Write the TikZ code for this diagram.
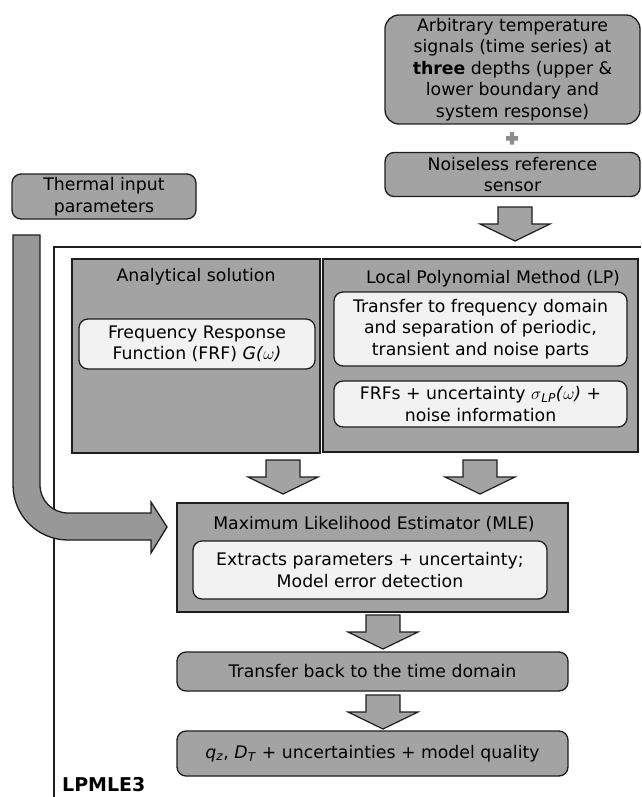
\documentclass[tikz,border=0pt]{standalone}
\usepackage{fontspec}
\setmainfont{DejaVu Sans}
\definecolor{boxgray}{HTML}{A3A3A3}
\definecolor{innergray}{HTML}{F2F2F2}
\definecolor{bargray}{HTML}{989898}
\definecolor{plusgray}{HTML}{8C8C8C}
\definecolor{edge}{HTML}{1E1E1E}
\newcommand\blockdown[2]{%
  \draw[blockarrow] (#1-17,#2) -- (#1+17,#2) -- (#1+17,#2+17) -- (#1+35,#2+17)
    -- (#1,#2+34) -- (#1-35,#2+17) -- (#1-17,#2+17) -- cycle;}
\begin{document}
\begin{tikzpicture}[x=1pt,y=-1pt,
  txt/.style={font=\fontsize{17.3}{21.6}\selectfont, align=center, inner sep=0pt},
  rbox/.style={txt, draw=edge, line width=1.3pt, fill=boxgray, rounded corners=9pt},
  sbox/.style={draw=edge, line width=1.3pt, fill=boxgray, inner sep=0pt},
  ibox/.style={txt, draw=edge, line width=1.3pt, fill=innergray, rounded corners=9pt},
  blockarrow/.style={draw=edge, line width=1.2pt, fill=boxgray, line join=miter},
]
\useasboundingbox (0,0) rectangle (641,797);

% top input boxes
\node[rbox, minimum width=255, minimum height=109, rounded corners=14pt] (sig) at (512.5,69.5)
  {Arbitrary temperature\\signals (time series) at\\\textbf{three} depths (upper \&\\lower boundary and\\system response)};
\fill[plusgray] (506,136) rectangle (518,140.5) (509.8,132) rectangle (514.2,144.5);
\node[rbox, minimum width=255, minimum height=44] (ref) at (512.5,174.5)
  {Noiseless reference\\sensor};
\blockdown{515}{207}

\node[rbox, minimum width=184, minimum height=45] (thermal) at (104,196.5)
  {Thermal input\\parameters};

% frame
\draw[line width=1.6pt, edge] (54,797) -- (54,247) -- (641,247);

% analytical solution
\node[sbox, minimum width=248, minimum height=194] (anal) at (196,356) {};
\node[txt] (analt) at (196,277) {Analytical solution};
\node[ibox, minimum width=236, minimum height=50] (frf) at (197,344)
  {Frequency Response\\Function (FRF) \textit{G(}$\omega$\textit{)}};

% LP
\node[sbox, minimum width=315, minimum height=193] (lp) at (480.5,355.5) {};
\node[txt] (lpt) at (493,279) {Local Polynomial Method (LP)};
\node[ibox, minimum width=293, minimum height=74] (tf) at (480.5,329)
  {Transfer to frequency domain\\and separation of periodic,\\transient and noise parts};
\node[ibox, minimum width=293, minimum height=46] (frfs) at (480.5,404)
  {FRFs + uncertainty $\sigma$\textsubscript{\textit{LP}}\textit{(}$\omega$\textit{)} +\\noise information};

\blockdown{283}{460}
\blockdown{480}{460}

% curved thermal arrow
\draw[line width=1.3pt, draw=edge, fill=bargray, line join=miter]
  (13,235) -- (13,485) .. controls (13,515.4) and (37.6,540) .. (68,540)
  -- (151,540) -- (151,553) -- (167,527) -- (151,502) -- (151,513) -- (68,513)
  .. controls (52.5,513) and (40,500.5) .. (40,485) -- (40,235) -- cycle;

% MLE
\node[sbox, minimum width=391, minimum height=109] (mle) at (372.5,557.5) {};
\node[txt] (mlet) at (374,524) {Maximum Likelihood Estimator (MLE)};
\node[ibox, minimum width=354, minimum height=58] (ext) at (370,570)
  {Extracts parameters + uncertainty;\\Model error detection};

\blockdown{383}{615}
\node[rbox, minimum width=391, minimum height=39] (back) at (372.5,671.5)
  {Transfer back to the time domain};
\blockdown{383}{695}
\node[rbox, minimum width=391, minimum height=45] (res) at (372.5,753.5)
  {\textit{q}\textsubscript{\textit{z}}, \textit{D}\textsubscript{\textit{T}} + uncertainties + model quality};

\node[font=\fontsize{19}{22}\selectfont\bfseries, anchor=west, inner sep=0pt] (lab) at (62,785) {LPMLE3};
\end{tikzpicture}
\end{document}
